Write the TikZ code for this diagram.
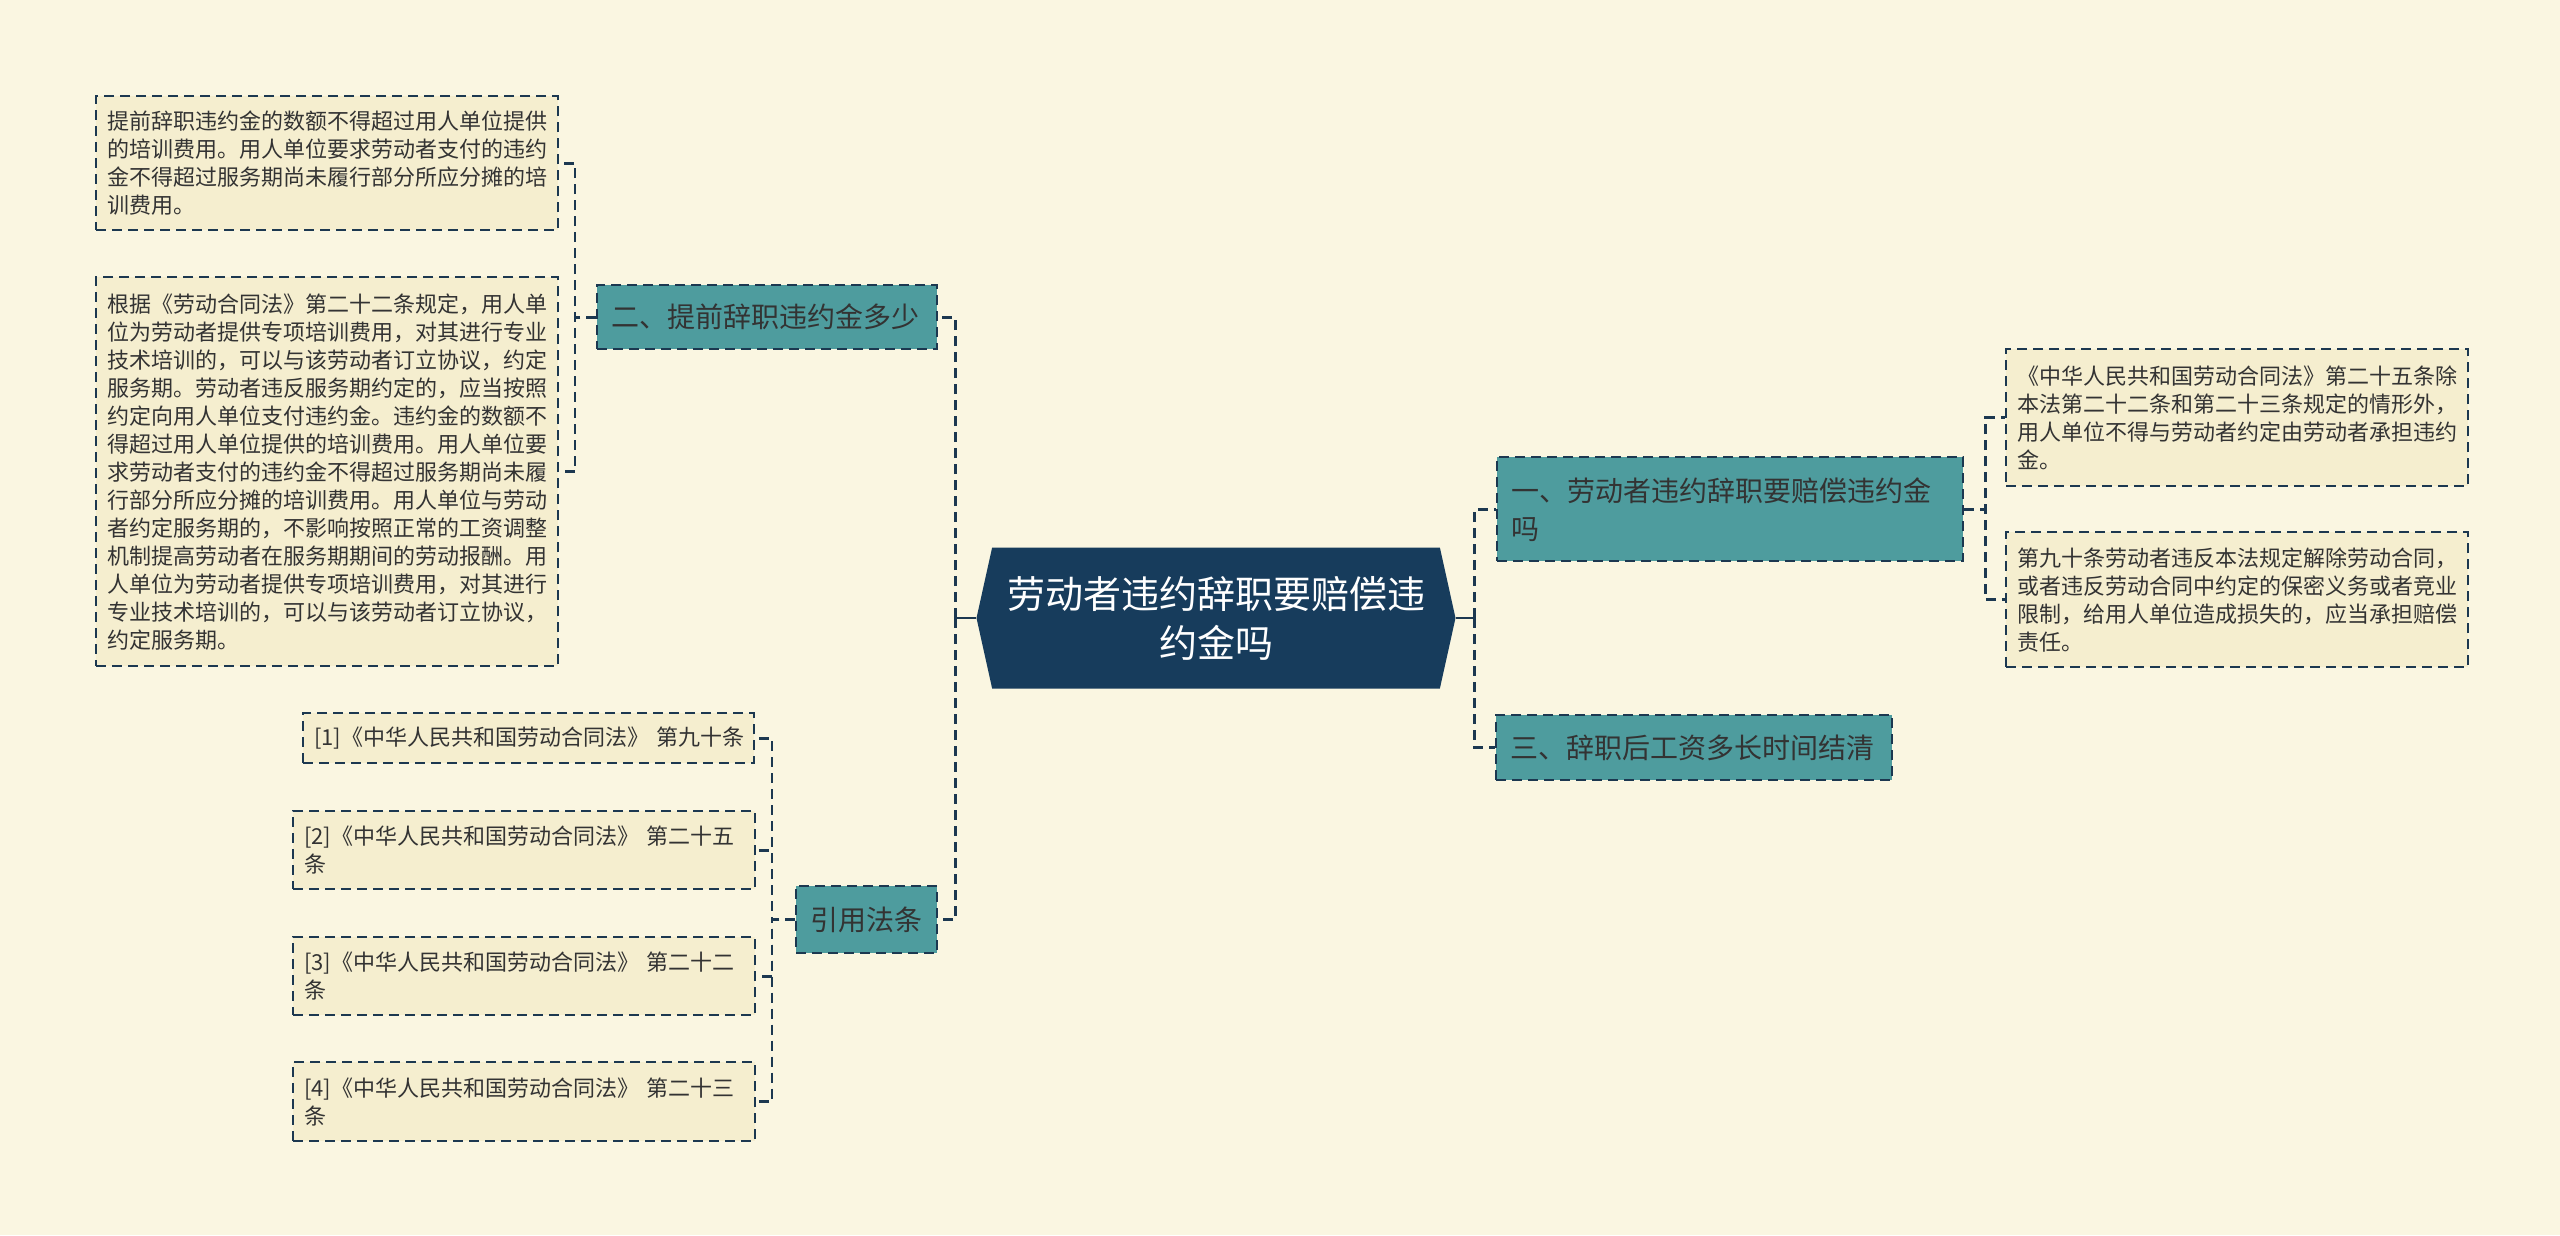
\documentclass[tikz,border=0pt]{standalone}
\usepackage{fontspec}
\setmainfont{Noto Sans CJK SC}
\usetikzlibrary{shapes.symbols}

\definecolor{paper}{HTML}{FAF6E1}
\definecolor{leafbg}{HTML}{F5EECF}
\definecolor{tealbox}{HTML}{4E9C9E}
\definecolor{navybox}{HTML}{173C5C}
\definecolor{ink}{HTML}{333333}
\definecolor{edgeline}{HTML}{1C3850}

\begin{document}
\begin{tikzpicture}[x=1pt, y=-1pt,
        link/.style={draw=edgeline, line width=2.6pt, dash pattern=on 10pt off 6pt},
        leaf/.style={draw=edgeline, line width=2.4pt, dash pattern=on 10pt off 6pt, fill=leafbg, anchor=north west, inner xsep=11pt, inner ysep=4pt, text width=440pt, align=left, text=ink, font=\fontsize{22}{28}\selectfont},
        branch/.style={draw=edgeline, line width=2.4pt, dash pattern=on 10pt off 6pt, fill=tealbox, anchor=north west, inner xsep=14pt, inner ysep=4pt, align=left, text=ink, font=\fontsize{28}{38}\selectfont},
        rootnode/.style={signal, signal to=west and east, signal pointer angle=155, fill=navybox, text=white, align=center, minimum width=479pt, minimum height=141pt, inner sep=0pt, font=\fontsize{38}{49}\selectfont}]
        \fill[paper] (0,0) rectangle (2560,1235);

        % centre
        \node[rootnode] (root) at (1216,618) {劳动者违约辞职要赔偿违\\约金吗};

        % left branches
        \node[branch, text width=312pt, minimum height=64pt] (sec2) at (596,284) {二、提前辞职违约金多少};
        \node[branch, text width=113pt, minimum height=67pt] (refs) at (795,885) {引用法条};

        \node[leaf, minimum height=134pt] (leafA) at (95,95) {提前辞职违约金的数额不得超过用人单位提供\\的培训费用。用人单位要求劳动者支付的违约\\金不得超过服务期尚未履行部分所应分摊的培\\训费用。};
        \node[leaf, minimum height=389pt] (leafB) at (95,276) {根据《劳动合同法》第二十二条规定，用人单\\位为劳动者提供专项培训费用，对其进行专业\\技术培训的，可以与该劳动者订立协议，约定\\服务期。劳动者违反服务期约定的，应当按照\\约定向用人单位支付违约金。违约金的数额不\\得超过用人单位提供的培训费用。用人单位要\\求劳动者支付的违约金不得超过服务期尚未履\\行部分所应分摊的培训费用。用人单位与劳动\\者约定服务期的，不影响按照正常的工资调整\\机制提高劳动者在服务期期间的劳动报酬。用\\人单位为劳动者提供专项培训费用，对其进行\\专业技术培训的，可以与该劳动者订立协议，\\约定服务期。};

        \node[leaf, text width=429pt, minimum height=50pt] (ref1) at (302,712) {[1]《中华人民共和国劳动合同法》~第九十条};
        \node[leaf, minimum height=78pt] (ref2) at (292,810) {[2]《中华人民共和国劳动合同法》~第二十五\\条};
        \node[leaf, minimum height=78pt] (ref3) at (292,936) {[3]《中华人民共和国劳动合同法》~第二十二\\条};
        \node[leaf, minimum height=79pt] (ref4) at (292,1061) {[4]《中华人民共和国劳动合同法》~第二十三\\条};

        % right branches
        \node[branch, text width=438pt, minimum height=104pt] (sec1) at (1496,456) {一、劳动者违约辞职要赔偿违约金\\吗};
        \node[branch, text width=368pt, minimum height=65pt] (sec3) at (1495,714) {三、辞职后工资多长时间结清};

        \node[leaf, minimum height=137pt] (leafC) at (2005,348) {《中华人民共和国劳动合同法》第二十五条除\\本法第二十二条和第二十三条规定的情形外，\\用人单位不得与劳动者约定由劳动者承担违约\\金。};
        \node[leaf, minimum height=135pt] (leafD) at (2005,531) {第九十条劳动者违反本法规定解除劳动合同，\\或者违反劳动合同中约定的保密义务或者竞业\\限制，给用人单位造成损失的，应当承担赔偿\\责任。};

        % connectors
        \coordinate (lbar) at ([xshift=-21pt]root.west);
        \coordinate (rbar) at ([xshift=19pt]root.east);
        \draw[edgeline, line width=2.6pt] (root.west) -- (lbar);
        \draw[edgeline, line width=2.6pt] (root.east) -- (rbar);
        \draw[link] (lbar) |- (sec2.east);
        \draw[link] (lbar) |- (refs.east);
        \draw[link] (rbar) |- (sec1.west);
        \draw[link] (rbar) |- (sec3.west);

        \draw[link] (sec2.west) -- ++(-21,0) |- (leafA.east);
        \draw[link] (sec2.west) -- ++(-21,0) |- (leafB.east);

        \draw[link] (refs.west) -- ++(-23,0) |- (ref1.east);
        \draw[link] (refs.west) -- ++(-23,0) |- (ref2.east);
        \draw[link] (refs.west) -- ++(-23,0) |- (ref3.east);
        \draw[link] (refs.west) -- ++(-23,0) |- (ref4.east);

        \draw[link] (sec1.east) -- ++(21,0) |- (leafC.west);
        \draw[link] (sec1.east) -- ++(21,0) |- (leafD.west);
\end{tikzpicture}
\end{document}
